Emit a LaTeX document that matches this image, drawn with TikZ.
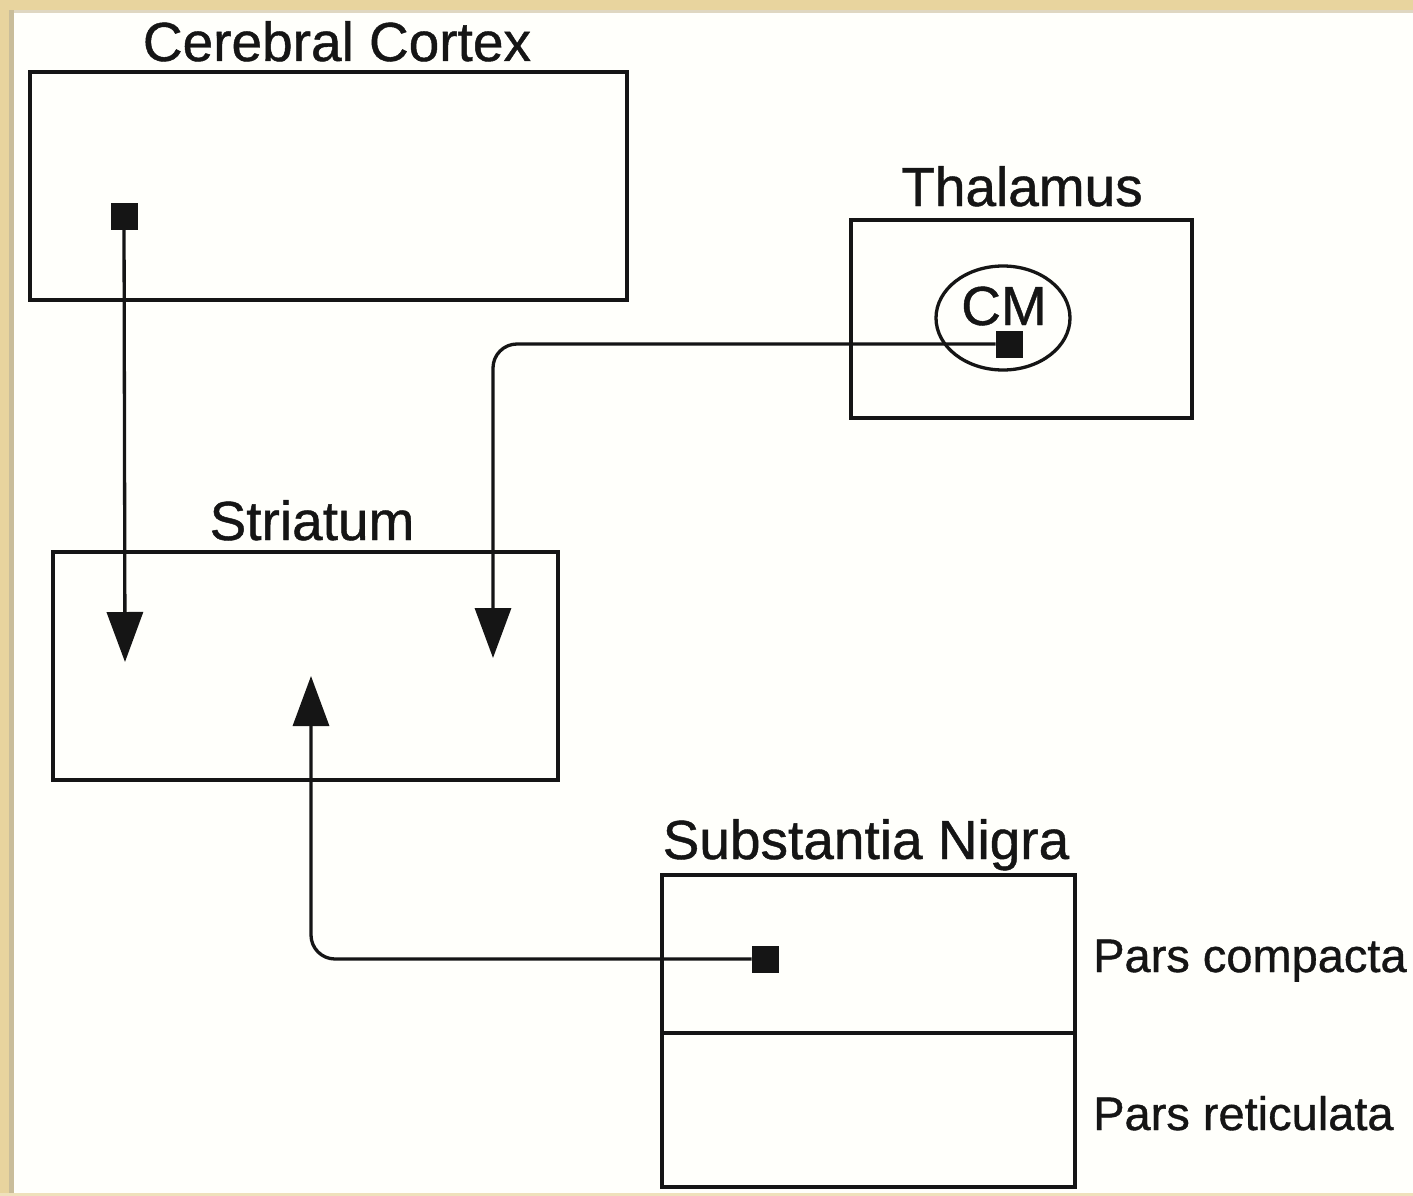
\documentclass[tikz,border=0pt]{standalone}
\usepackage{fontspec}
\setmainfont{Liberation Sans}
\newfontfamily\heavyfont[FakeBold=0.8]{Liberation Sans}
\usetikzlibrary{arrows.meta,shapes.geometric}
\definecolor{paper}{HTML}{FFFFFB}
\definecolor{tan}{HTML}{E8D49E}
\definecolor{tanedge}{HTML}{C9BD9A}
\definecolor{ink}{HTML}{151515}
\tikzset{
  region/.style={draw=ink, line width=4pt, fill=none, inner sep=0pt, outer sep=0pt},
  title/.style={anchor=base, inner sep=0pt, text=ink, font=\heavyfont\fontsize{55}{60}\selectfont},
  part/.style={anchor=base west, inner sep=0pt, text=ink, font=\heavyfont\fontsize{47}{52}\selectfont},
  soma/.style={fill=ink, draw=none, minimum size=27pt, inner sep=0pt, outer sep=0pt},
  conn/.style={draw=ink, line width=3.3pt, rounded corners=24pt,
    -{Triangle[width=36pt,length=50pt]}}
}
\begin{document}
\begin{tikzpicture}[x=1pt,y=-1pt]
% page and frame
\fill[paper] (0,0) rectangle (1413,1196);
\useasboundingbox (0,0) rectangle (1413,1196);
\fill[tan] (0,0) rectangle (1413,10);
\fill[tan] (0,0) rectangle (9,1196);
\fill[tanedge] (9,10) rectangle (14,1196);
\fill[tanedge!60] (14,10) rectangle (1413,13);
\fill[tan!70] (0,1193) rectangle (1413,1196);

% regions
\node[region, minimum width=597pt, minimum height=228pt] (cortex) at (328.5,186) {};
\node[region, minimum width=341pt, minimum height=198pt] (thal) at (1021.5,319) {};
\node[region, minimum width=505pt, minimum height=228pt] (stri) at (305.5,666) {};
\node[region, minimum width=413pt, minimum height=312pt] (sn) at (868.5,1031) {};
\draw[draw=ink, line width=4pt] (sn.west |- 0,1033) -- (sn.east |- 0,1033);
\node[draw=ink, line width=3.3pt, ellipse, minimum width=134pt, minimum height=104pt, inner sep=0pt] (cm) at (1003,318) {};

% titles
\node[title] (tcortex) at (337,61) {Cerebral Cortex};
\node[title] (tthal) at (1022,206) {Thalamus};
\node[title] (tstri) at (312,540) {Striatum};
\node[title] (tsn) at (866,859) {Substantia Nigra};
\node[title] (tcm) at (1004,325) {CM};
\node[part] (tpc) at (1093,972) {Pars compacta};
\node[part] (tpr) at (1093,1130) {Pars reticulata};

% cell bodies
\node[soma] (scc) at (124,216) {};
\node[soma] (scm) at (1009,344) {};
\node[soma] (ssn) at (765,959) {};

% tips of projections
\coordinate (tipA) at (125,662);
\coordinate (tipB) at (493,658);
\coordinate (tipC) at (311,676);

% projections
\draw[conn] (scc) -- (tipA);
\draw[conn] (scm) -| (tipB);
\draw[conn] (ssn) -| (tipC);
\end{tikzpicture}
\end{document}
